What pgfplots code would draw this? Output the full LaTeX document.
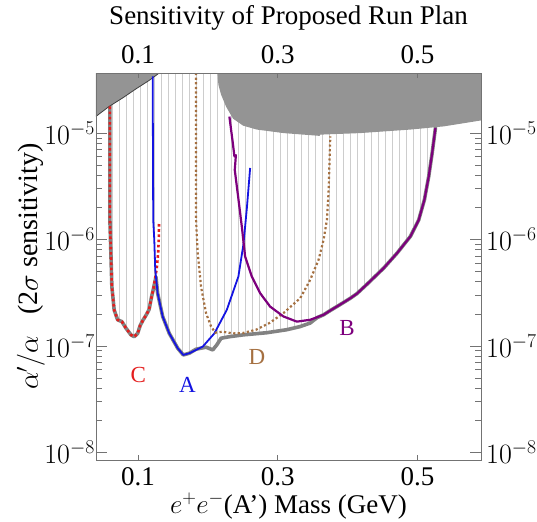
\RequirePackage{fix-cm}
\documentclass[border=0pt]{standalone}
\usepackage{fontspec}
\setmainfont{Liberation Serif}
\usepackage{pgfplots}
\usepackage{pgfplotstable}
\pgfplotsset{compat=1.18}
\usetikzlibrary{patterns.meta}
\definecolor{cA}{RGB}{20,20,225}
\definecolor{cB}{RGB}{125,0,125}
\definecolor{cC}{RGB}{228,30,30}
\definecolor{cD}{RGB}{165,112,65}
\definecolor{envgray}{RGB}{130,130,130}
\definecolor{exgray}{RGB}{148,148,148}
\definecolor{hatch}{RGB}{205,205,205}
\definecolor{spine}{RGB}{115,115,115}

% lower envelope (thick gray line), closed through the top for the hatching
\pgfplotstableread{
x y
0.0599 3.67e-5
0.0599 1.78e-5
0.0599 1.53e-6
0.0613 7.45e-7
0.0627 3.61e-7
0.0660 2.18e-7
0.0709 1.76e-7
0.0771 1.69e-7
0.0828 1.47e-7
0.0900 1.27e-7
0.0947 1.22e-7
0.0996 1.31e-7
0.1033 1.56e-7
0.1076 1.76e-7
0.1120 1.96e-7
0.1160 2.20e-7
0.1196 2.91e-7
0.1219 3.37e-7
0.1258 4.45e-7
0.1282 3.13e-7
0.1354 1.89e-7
0.1449 1.31e-7
0.1569 9.51e-8
0.1649 8.22e-8
0.1735 8.53e-8
0.1832 9.31e-8
0.1975 9.72e-8
0.2071 9.17e-8
0.2128 1.02e-7
0.2190 1.18e-7
0.2309 1.22e-7
0.2510 1.27e-7
0.2845 1.33e-7
0.3132 1.42e-7
0.3323 1.52e-7
0.3466 1.64e-7
0.3562 1.84e-7
0.3657 1.96e-7
0.3753 2.15e-7
0.3896 2.45e-7
0.4039 2.80e-7
0.4135 3.10e-7
0.4279 3.80e-7
0.4517 5.38e-7
0.4709 7.45e-7
0.4900 1.07e-6
0.5019 1.53e-6
0.5100 2.36e-6
0.5162 3.92e-6
0.5211 6.50e-6
0.5258 1.117e-5
0.5258 3.67e-5
}\envdata

\pgfplotstableread{
x y
0.0599 1.78e-5
0.0599 1.53e-6
0.0613 7.45e-7
0.0627 3.61e-7
0.0660 2.18e-7
0.0709 1.76e-7
0.0771 1.69e-7
0.0828 1.47e-7
0.0900 1.27e-7
0.0947 1.22e-7
0.0996 1.31e-7
0.1033 1.56e-7
0.1076 1.76e-7
0.1120 1.96e-7
0.1160 2.20e-7
0.1196 2.91e-7
0.1219 3.37e-7
0.1244 4.18e-7
0.1270 5.40e-7
0.1290 7.50e-7
0.1300 1.10e-6
0.1302 1.44e-6
}\Cdata

\pgfplotstableread{
x y
0.1211 3.41e-5
0.1219 1.53e-6
0.1234 9.93e-7
0.1248 5.19e-7
0.1282 3.13e-7
0.1354 1.89e-7
0.1449 1.31e-7
0.1569 9.51e-8
0.1649 8.22e-8
0.1735 8.53e-8
0.1928 9.85e-8
0.2094 1.31e-7
0.2272 2.18e-7
0.2438 4.49e-7
0.2510 9.00e-7
0.2560 2.00e-6
0.2606 4.70e-6
}\Adata

\pgfplotstableread{
x y
0.1832 3.67e-5
0.1832 1.53e-6
0.1856 7.45e-7
0.1903 3.61e-7
0.1975 2.03e-7
0.2047 1.52e-7
0.2108 1.33e-7
0.2214 1.36e-7
0.2358 1.31e-7
0.2501 1.32e-7
0.2692 1.42e-7
0.2882 1.64e-7
0.3083 2.03e-7
0.3323 2.81e-7
0.3466 4.18e-7
0.3585 6.44e-7
0.3657 9.93e-7
0.3705 1.53e-6
0.3728 2.73e-6
0.3753 9.31e-6
}\Ddata

\pgfplotstableread{
x y
0.2309 1.43e-5
0.2358 8.07e-6
0.2381 6.04e-6
0.2402 6.20e-6
0.2386 4.50e-6
0.2435 2.50e-6
0.2487 1.32e-6
0.2534 6.92e-7
0.2630 4.49e-7
0.2749 3.13e-7
0.2892 2.34e-7
0.3083 1.89e-7
0.3275 1.69e-7
0.3466 1.76e-7
0.3657 1.96e-7
0.3753 2.15e-7
0.3896 2.45e-7
0.4039 2.80e-7
0.4135 3.10e-7
0.4279 3.80e-7
0.4517 5.38e-7
0.4709 7.45e-7
0.4900 1.07e-6
0.5019 1.53e-6
0.5100 2.36e-6
0.5162 3.92e-6
0.5211 6.50e-6
0.5258 1.117e-5
}\Bdata

\pgfplotstableread{
x y
0.0400 1.435e-5
0.0589 1.782e-5
0.0781 2.138e-5
0.0971 2.600e-5
0.1162 3.130e-5
0.1305 3.670e-5
}\exleft

\pgfplotstableread{
x y
0.2140 3.67e-5
0.2151 2.85e-5
0.2190 2.30e-5
0.2262 1.77e-5
0.2362 1.365e-5
0.2505 1.175e-5
0.2702 1.079e-5
0.3083 1.000e-5
0.3562 9.46e-6
0.3600 9.40e-6
0.3610 9.67e-6
0.4183 1.000e-5
0.4900 1.079e-5
0.5377 1.156e-5
0.5910 1.315e-5
0.5910 3.67e-5
}\exright

\begin{document}
\begin{tikzpicture}
\begin{axis}[name=main,
  scale only axis, width=385pt, height=387pt,
  xmin=0.04, xmax=0.591, ymode=log, ymin=8.46e-9, ymax=3.67e-5,
  axis on top,
  axis line style={spine, line width=0.7pt},
  xtick={0.1,0.3,0.5}, xticklabels={0.1,0.3,0.5},
  xtick style={draw=none},
  ytick={1e-8,1e-7,1e-6,1e-5},
  yticklabels={$10^{-8}$,$10^{-7}$,$10^{-6}$,$10^{-5}$},
  tick align=inside, major tick length=11pt, minor tick length=6pt,
  every tick/.style={spine, line width=0.7pt},
  tick label style={font=\fontsize{27}{30}\selectfont},
  yticklabel style={inner xsep=1pt, font=\fontsize{28}{30}\selectfont},
  xticklabel style={inner ysep=7pt},
  xlabel={$e^{+}e^{-}$(A') Mass (GeV)},
  xlabel style={font=\fontsize{27}{30}\selectfont, at={(axis description cs:0.5,0)}, anchor=base, yshift=-53pt},
  ylabel={$\alpha'/\alpha$\enspace\ (2$\sigma$ sensitivity)},
  ylabel style={font=\fontsize{28}{30}\selectfont, at={(axis description cs:0,0.5)}, anchor=base, yshift=58pt},
  title={Sensitivity of Proposed Run Plan},
  title style={font=\fontsize{27}{30}\selectfont, at={(axis description cs:0.5,1)}, anchor=base, yshift=43pt},
]
% hatching above the lower envelope
\addplot[draw=none, pattern={Lines[angle=90,distance=7pt,line width=1pt]}, pattern color=hatch] table {\envdata} -- cycle;
% envelope line
\addplot[envgray, line width=3.6pt, line join=round] table {\envdata};
% excluded regions
\addplot[draw=none, fill=exgray] table {\exleft} -- (axis cs:0.04,3.67e-5) -- cycle;
\addplot[black!75, line width=0.8pt] table {\exleft};
\addplot[draw=none, fill=exgray] table {\exright} -- cycle;
% curves
\addplot[cC, line width=2.6pt, dash pattern=on 2.6pt off 2.6pt] table {\Cdata};
\addplot[cA, line width=1.8pt, line join=round] table {\Adata};
\addplot[cD, line width=2.2pt, dash pattern=on 2.2pt off 2.4pt] table {\Ddata};
\addplot[cB, line width=2.2pt, line join=round] table {\Bdata};
% labels
\node[cC, font=\fontsize{23}{25}\selectfont] at (axis cs:0.1004,5.3e-8) {C};
\node[cA, font=\fontsize{23}{25}\selectfont] at (axis cs:0.1707,4.3e-8) {A};
\node[cD, font=\fontsize{23}{25}\selectfont] at (axis cs:0.2702,7.9e-8) {D};
\node[cB, font=\fontsize{23}{25}\selectfont] at (axis cs:0.3992,1.47e-7) {B};
\end{axis}
\begin{axis}[
  scale only axis, width=385pt, height=387pt,
  xmin=0.04, xmax=0.591, ymode=log, ymin=8.46e-9, ymax=3.67e-5,
  axis line style={draw=none},
  xtick={0.1,0.3,0.5}, xticklabels={0.1,0.3,0.5},
  ytick={1e-8,1e-7,1e-6,1e-5},
  yticklabels={$10^{-8}$,$10^{-7}$,$10^{-6}$,$10^{-5}$},
  yminorticks=false,
  ytick style={draw=none},
  tick align=inside, major tick length=5pt,
  xtick style={spine, line width=0.7pt},
  xticklabel pos=upper, yticklabel pos=right,
  tick label style={font=\fontsize{27}{30}\selectfont},
  yticklabel style={inner xsep=5pt, font=\fontsize{28}{30}\selectfont},
  xticklabel style={inner ysep=9pt},
]
\addplot[draw=none] coordinates {(0.1,1e-7)};
\end{axis}
\pgfresetboundingbox
\path[use as bounding box] ([xshift=-96pt,yshift=-61pt]main.south west) rectangle ([xshift=56pt,yshift=73pt]main.north east);
\end{tikzpicture}
\end{document}
